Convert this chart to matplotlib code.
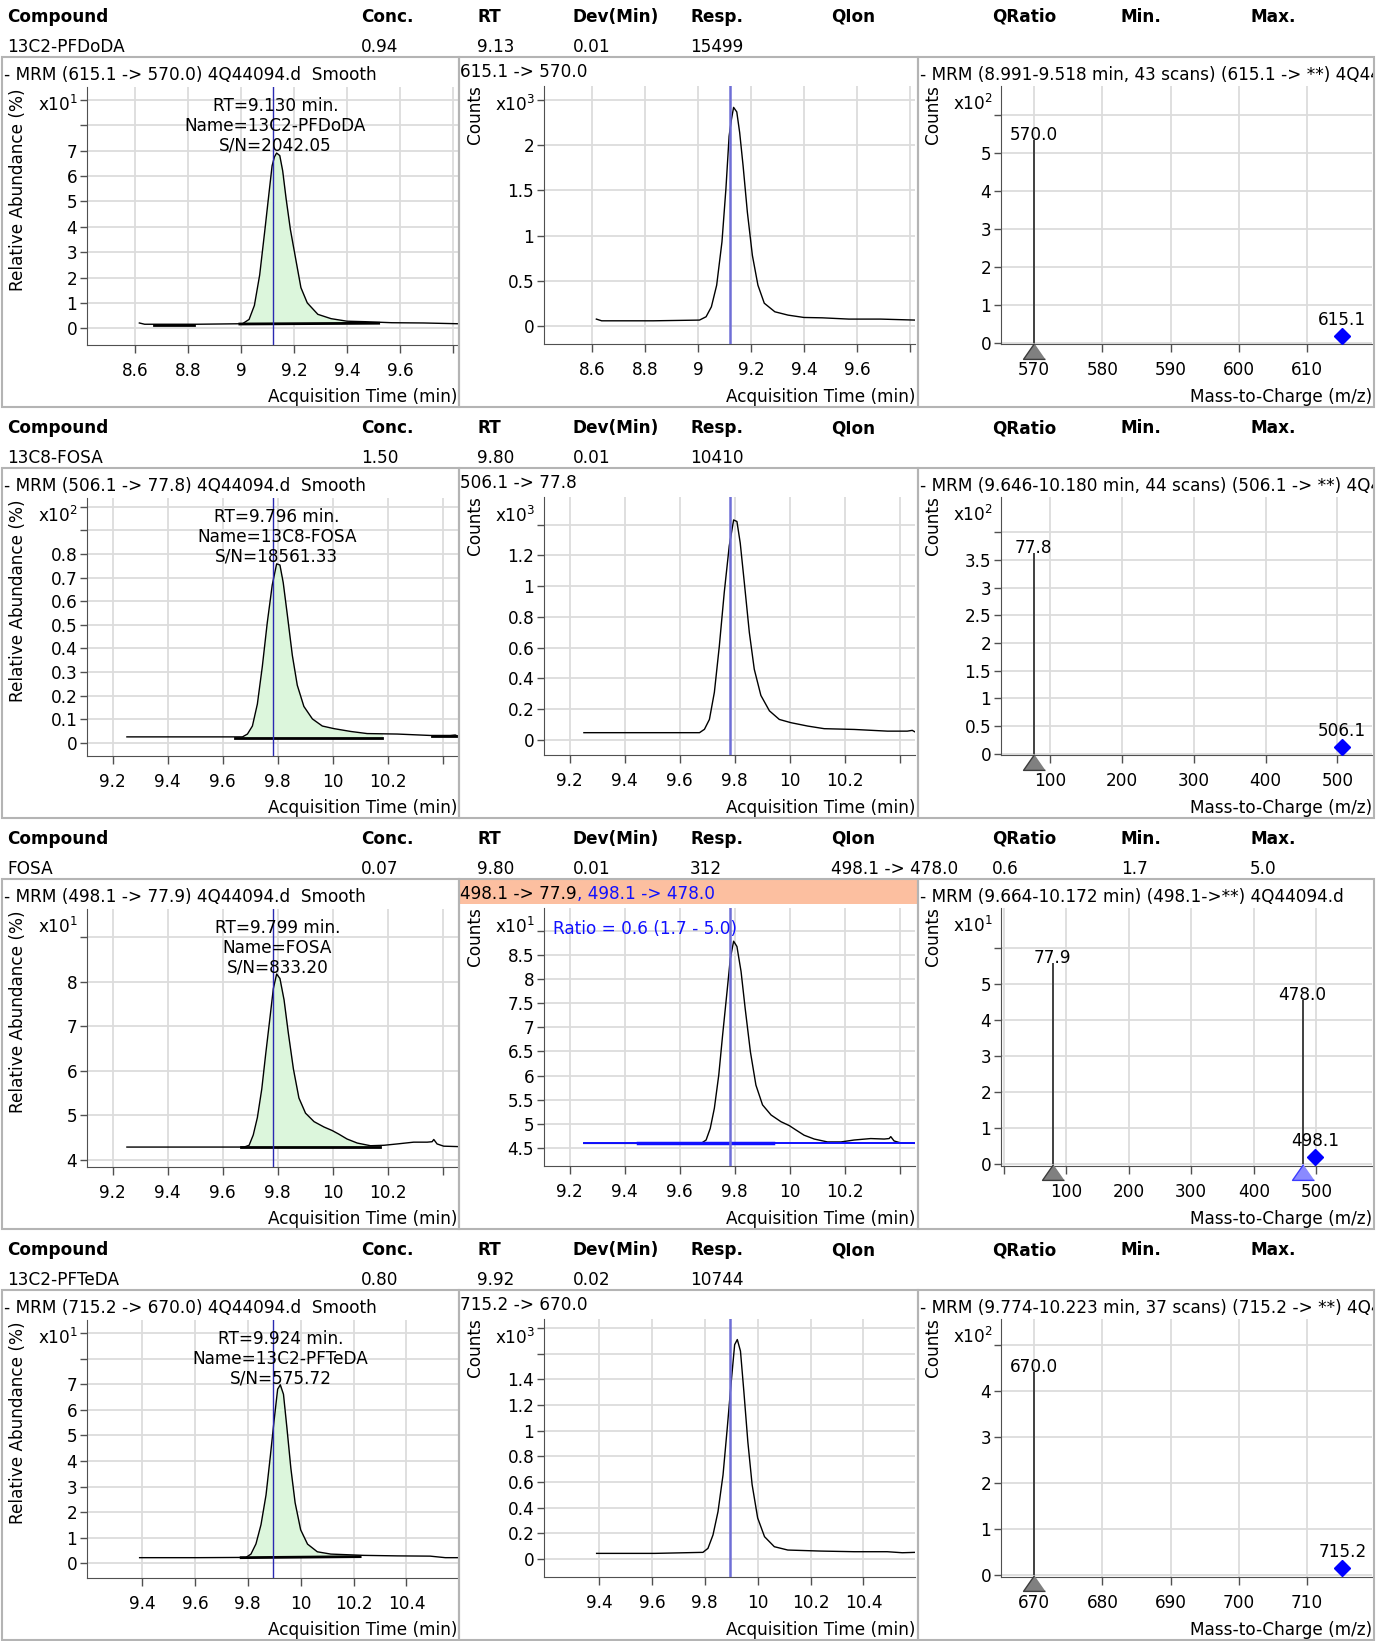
import numpy as np
import matplotlib
matplotlib.use('Agg')
import matplotlib.pyplot as plt
from matplotlib.patches import Rectangle
from matplotlib.transforms import Bbox, TransformedBbox, ScaledTranslation

plt.rcParams['font.family'] = ['DejaVu Sans']
plt.rcParams['font.size'] = 12.2

# ---- table values ----
compounds = ['13C2-PFDoDA', '13C8-FOSA', 'FOSA', '13C2-PFTeDA']
conc = ['0.94', '1.50', '0.07', '0.80']
rt_col = ['9.13', '9.80', '9.80', '9.92']
dev = ['0.01', '0.01', '0.01', '0.02']
resp = ['15499', '10410', '312', '10744']
qion = ['', '', '498.1 -> 478.0', '']
qratio = ['', '', '0.6', '']
qmin = ['', '', '1.7', '']
qmax = ['', '', '5.0', '']
headers = ['Compound', 'Conc.', 'RT', 'Dev(Min)', 'Resp.', 'QIon', 'QRatio', 'Min.', 'Max.']

transitions = ['615.1 -> 570.0', '506.1 -> 77.8', '498.1 -> 77.9', '715.2 -> 670.0']
rt_exact = [9.130, 9.796, 9.799, 9.924]
sn = ['2042.05', '18561.33', '833.20', '575.72']
rt_marker = [9.12, 9.784, 9.784, 9.896]
spec_titles = ['- MRM (8.991-9.518 min, 43 scans) (615.1 -> **) 4Q44094.d',
               '- MRM (9.646-10.180 min, 44 scans) (506.1 -> **) 4Q44094.d',
               '- MRM (9.664-10.172 min) (498.1->**) 4Q44094.d',
               '- MRM (9.774-10.223 min, 37 scans) (715.2 -> **) 4Q44094.d']

# ---- chromatograms: time (min), counts, relative abundance ----
t_pfdoda = [8.615, 8.635, 8.83, 9.005, 9.03, 9.05, 9.07, 9.09, 9.105, 9.117, 9.126, 9.134, 9.146,
            9.157, 9.17, 9.186, 9.205, 9.226, 9.25, 9.29, 9.34, 9.40, 9.47, 9.57, 9.69, 9.82]
cnt_pfdoda = [0.074, 0.055, 0.055, 0.063, 0.10, 0.21, 0.45, 0.93, 1.52, 2.10, 2.29, 2.42, 2.37,
              2.14, 1.77, 1.26, 0.78, 0.45, 0.25, 0.155, 0.118, 0.092, 0.088, 0.074, 0.074, 0.063]
rel_pfdoda = [0.21, 0.16, 0.16, 0.18, 0.35, 0.9, 2.1, 3.9, 5.3, 6.4, 6.75, 6.9, 6.8,
              6.2, 5.1, 3.9, 2.8, 1.6, 1.0, 0.55, 0.38, 0.28, 0.26, 0.22, 0.21, 0.18]

t_fosa13 = [9.252, 9.672, 9.69, 9.708, 9.726, 9.744, 9.762, 9.78, 9.796, 9.808, 9.82, 9.835, 9.853,
            9.871, 9.895, 9.926, 9.962, 10.004, 10.065, 10.125, 10.234, 10.355, 10.427, 10.445, 10.46]
cnt_fosa13 = [0.048, 0.048, 0.07, 0.134, 0.31, 0.61, 0.96, 1.26, 1.43, 1.42, 1.28, 1.02, 0.70,
              0.46, 0.29, 0.19, 0.134, 0.113, 0.091, 0.074, 0.069, 0.058, 0.058, 0.063, 0.048]
rel_fosa13 = [0.025, 0.025, 0.037, 0.071, 0.164, 0.323, 0.509, 0.668, 0.758, 0.753, 0.678, 0.541, 0.371,
              0.244, 0.154, 0.101, 0.071, 0.060, 0.048, 0.039, 0.037, 0.031, 0.031, 0.033, 0.025]

t_fosa = [9.252, 9.678, 9.696, 9.711, 9.726, 9.742, 9.756, 9.772, 9.784, 9.796, 9.808, 9.823, 9.838,
          9.857, 9.877, 9.901, 9.932, 9.968, 9.998, 10.022, 10.052, 10.089, 10.137, 10.186, 10.234,
          10.294, 10.343, 10.361, 10.367, 10.379, 10.403, 10.457]
cnt_fosa = [4.59, 4.59, 4.66, 4.90, 5.32, 6.01, 6.84, 7.74, 8.43, 8.79, 8.68, 8.16, 7.39,
            6.49, 5.80, 5.39, 5.18, 5.04, 4.96, 4.87, 4.76, 4.68, 4.62, 4.62, 4.66,
            4.69, 4.68, 4.69, 4.73, 4.64, 4.60, 4.59]
rel_fosa = [4.29, 4.29, 4.33, 4.56, 4.95, 5.59, 6.36, 7.20, 7.84, 8.17, 8.07, 7.59, 6.87,
            6.04, 5.39, 5.05, 4.86, 4.74, 4.66, 4.58, 4.47, 4.38, 4.32, 4.33, 4.36,
            4.40, 4.40, 4.41, 4.46, 4.36, 4.31, 4.30]

t_pfteda = [9.391, 9.611, 9.793, 9.812, 9.831, 9.85, 9.869, 9.885, 9.9, 9.913, 9.923, 9.935, 9.948,
            9.963, 9.979, 10.0, 10.026, 10.063, 10.114, 10.239, 10.365, 10.49, 10.547, 10.597]
cnt_pfteda = [0.044, 0.044, 0.052, 0.083, 0.187, 0.369, 0.655, 1.02, 1.38, 1.67, 1.71, 1.62, 1.30,
              0.91, 0.58, 0.32, 0.174, 0.096, 0.07, 0.062, 0.057, 0.057, 0.049, 0.052]
rel_pfteda = [0.22, 0.22, 0.23, 0.36, 0.76, 1.51, 2.67, 4.16, 5.63, 6.81, 6.98, 6.61, 5.30,
              3.71, 2.37, 1.31, 0.75, 0.45, 0.36, 0.31, 0.29, 0.28, 0.22, 0.22]

times = [t_pfdoda, t_fosa13, t_fosa, t_pfteda]
counts = [cnt_pfdoda, cnt_fosa13, cnt_fosa, cnt_pfteda]
rel = [rel_pfdoda, rel_fosa13, rel_fosa, rel_pfteda]

# integration baselines (start, value, end, value) and extra noise segments
peak_base = [(8.995, 0.17, 9.52, 0.20), (9.646, 0.022, 10.18, 0.022),
             (9.667, 4.29, 10.17, 4.29), (9.775, 0.22, 10.225, 0.26)]
extra_base = [[(8.67, 0.15, 8.82, 0.15)], [(10.36, 0.027, 10.45, 0.027)], [], []]

# ---- spectra ----
frag_mz = [[570.0], [77.8], [77.9, 478.0], [670.0]]
frag_h = [[5.35], [3.63], [5.57, 4.55], [4.42]]
prec_mz = [615.1, 506.1, 498.1, 715.2]
prec_h = [0.18, 0.12, 0.19, 0.15]

# ---- axis ranges / ticks ----
chrom_xlim = [(8.417, 9.82), (9.107, 10.455), (9.107, 10.455), (9.192, 10.595)]
chrom_xt = [[8.6, 8.8, 9.0, 9.2, 9.4, 9.6, 9.8], [9.2, 9.4, 9.6, 9.8, 10.0, 10.2, 10.4],
            [9.2, 9.4, 9.6, 9.8, 10.0, 10.2, 10.4], [9.4, 9.6, 9.8, 10.0, 10.2, 10.4]]
chrom_xtl = [['8.6', '8.8', '9', '9.2', '9.4', '9.6', ''], ['9.2', '9.4', '9.6', '9.8', '10', '10.2', ''],
             ['9.2', '9.4', '9.6', '9.8', '10', '10.2', ''], ['9.4', '9.6', '9.8', '10', '10.2', '10.4']]

p1_ylim = [(-0.657, 9.5), (-0.056, 1.037), (3.843, 9.628), (-0.575, 9.515)]
p1_yt = [list(range(10)), [0, 0.1, 0.2, 0.3, 0.4, 0.5, 0.6, 0.7, 0.8, 0.9, 1.0], [4, 5, 6, 7, 8, 9], list(range(10))]
p1_ytl = [['0', '1', '2', '3', '4', '5', '6', '7', '', ''],
          ['0', '0.1', '0.2', '0.3', '0.4', '0.5', '0.6', '0.7', '0.8', '', ''],
          ['4', '5', '6', '7', '8', ''],
          ['0', '1', '2', '3', '4', '5', '6', '7', '', '']]
p1_exp = ['1', '2', '1', '1']

p2_ylim = [(-0.202, 2.657), (-0.097, 1.579), (4.12, 9.48), (-0.14, 1.87)]
p2_yt = [[0, 0.5, 1, 1.5, 2, 2.5], [0, 0.2, 0.4, 0.6, 0.8, 1.0, 1.2, 1.4],
         [4.5, 5, 5.5, 6, 6.5, 7, 7.5, 8, 8.5, 9], [0, 0.2, 0.4, 0.6, 0.8, 1.0, 1.2, 1.4, 1.6, 1.8]]
p2_ytl = [['0', '0.5', '1', '1.5', '2', ''], ['0', '0.2', '0.4', '0.6', '0.8', '1', '1.2', ''],
          ['4.5', '5', '5.5', '6', '6.5', '7', '7.5', '8', '8.5', ''],
          ['0', '0.2', '0.4', '0.6', '0.8', '1', '1.2', '1.4', '', '']]
p2_exp = ['3', '3', '1', '3']

p3_xlim = [(565.13, 619.53), (32.1, 548.1), (-4.5, 589.1), (665.13, 719.53)]
p3_xt = [[570, 580, 590, 600, 610], [100, 200, 300, 400, 500], [0, 100, 200, 300, 400, 500], [670, 680, 690, 700, 710]]
p3_xtl = [['570', '580', '590', '600', '610'], ['100', '200', '300', '400', '500'],
          ['', '100', '200', '300', '400', '500'], ['670', '680', '690', '700', '710']]
p3_ylim = [(-0.034, 6.777), (-0.02, 4.636), (-0.047, 7.106), (-0.043, 5.565)]
p3_yt = [[0, 1, 2, 3, 4, 5, 6], [0, 0.5, 1, 1.5, 2, 2.5, 3, 3.5, 4], [0, 1, 2, 3, 4, 5, 6], [0, 1, 2, 3, 4, 5]]
p3_ytl = [['0', '1', '2', '3', '4', '5', ''], ['0', '0.5', '1', '1.5', '2', '2.5', '3', '3.5', ''],
          ['0', '1', '2', '3', '4', '5', ''], ['0', '1', '2', '3', '4', '']]
p3_exp = ['2', '2', '1', '2']

# ---- layout (pixels) ----
W, H = 1391, 1641
block_top = [0, 411, 822, 1233]
col_x = [7, 361, 477, 573, 690, 831, 992, 1121, 1250]
FS = 12.2

fig = plt.figure(figsize=(W / 100, H / 100), dpi=100)


def fbox(x0, y0, x1, y1):
    return [x0 / W, 1 - y1 / H, (x1 - x0) / W, (y1 - y0) / H]


def ftext(x, y, s, **kw):
    # small nudge so that 'center' sits on the visual middle of the glyphs
    if kw.get('va') == 'center' and 'rotation' not in kw:
        y += 2
    return fig.text(x / W, 1 - y / H, s, fontsize=kw.pop('fontsize', FS), **kw)


def style(ax, xlim, ylim, xt, xtl, yt, ytl):
    ax.set_xlim(xlim)
    ax.set_ylim(ylim)
    ax.set_xticks(xt)
    ax.set_xticklabels(xtl)
    ax.set_yticks(yt)
    ax.set_yticklabels(ytl)
    for s in ('top', 'right'):
        ax.spines[s].set_visible(False)
    for s in ('left', 'bottom'):
        ax.spines[s].set_color('#505050')
    ax.grid(True, color='#dcdcdc', lw=1.3)
    ax.set_axisbelow(True)
    ax.tick_params(axis='y', direction='out', length=5, width=1, color='#505050', pad=2, labelsize=FS)
    ax.tick_params(axis='x', direction='out', length=6, width=1, color='#505050', pad=6, labelsize=FS)
    ax.patch.set_alpha(0)


tri = [(0, 0.72), (-1, -0.72), (1, -0.72)]

for i in range(4):
    top = block_top[i]
    row = [compounds[i], conc[i], rt_col[i], dev[i], resp[i], qion[i], qratio[i], qmin[i], qmax[i]]
    for x, h, v in zip(col_x, headers, row):
        ftext(x, top + 15, h, weight='bold', va='center')
        ftext(x, top + 45, v, va='center')

    # panel frames
    for x0, x1 in [(2, 459), (459, 918), (918, 1374)]:
        fig.add_artist(Rectangle((x0 / W, 1 - (top + 407) / H), (x1 - x0) / W, 350 / H,
                                 transform=fig.transFigure, fill=False, ec='#b4b4b4', lw=1.5))

    t = np.array(times[i])

    # --- panel 1: relative abundance ---
    ax1 = fig.add_axes(fbox(87, top + 87, 458, top + 345))
    style(ax1, chrom_xlim[i], p1_ylim[i], chrom_xt[i], chrom_xtl[i], p1_yt[i], p1_ytl[i])
    r = np.array(rel[i])
    b0, bv0, b1, bv1 = peak_base[i]
    tt = np.concatenate([[b0], t[(t > b0) & (t < b1)], [b1]])
    ax1.fill_between(tt, np.interp(tt, [b0, b1], [bv0, bv1]), np.interp(tt, t, r),
                     color='#dcf6dc', lw=0, zorder=2)
    ax1.plot(t, r, color='black', lw=1, zorder=3)
    ax1.plot([b0, b1], [bv0, bv1], color='black', lw=2, zorder=3)
    for s0, sv0, s1, sv1 in extra_base[i]:
        ax1.plot([s0, s1], [sv0, sv1], color='black', lw=2, zorder=3)
    ax1.axvline(rt_marker[i], color='#2a2ab0', lw=1, zorder=4)
    ax1.text(rt_exact[i], 0.85,
             'RT=%.3f min.\nName=%s\nS/N=%s' % (rt_exact[i], compounds[i], sn[i]),
             transform=ax1.get_xaxis_transform(), ha='center', va='center',
             fontsize=FS, linespacing=1.12, zorder=5)
    ftext(4, top + 73, '- MRM (%s) 4Q44094.d  Smooth' % transitions[i], va='center')
    ftext(18, top + 190, 'Relative Abundance (%)', rotation=90, ha='center', va='center')
    ftext(38, top + 103, 'x10$^{%s}$' % p1_exp[i], va='center')
    ftext(457, top + 395, 'Acquisition Time (min)', ha='right', va='center')

    # --- panel 2: counts ---
    ax2 = fig.add_axes(fbox(544, top + 86, 915, top + 344))
    style(ax2, chrom_xlim[i], p2_ylim[i], chrom_xt[i], chrom_xtl[i], p2_yt[i], p2_ytl[i])
    ax2.plot(t, counts[i], color='black', lw=1, zorder=3)
    ax2.axvline(rt_marker[i], color='#6e6ed6', lw=1.8, zorder=4)
    if i == 2:
        fig.add_artist(Rectangle((460 / W, 1 - (top + 82) / H), 457 / W, 24 / H,
                                 transform=fig.transFigure, color='#fcbfa0', lw=0, zorder=0))
        ftext(460, top + 70, '498.1 -> 77.9', va='center')
        ftext(577, top + 70, ', 498.1 -> 478.0', va='center', color='#1010ff')
        ftext(553, top + 105, 'Ratio = %s (%s - %s)' % (qratio[i], qmin[i], qmax[i]),
              va='center', color='#1010ff')
        ax2.plot([t[0], t[-1]], [cnt_fosa[0], cnt_fosa[-1]], color='#1010ff', lw=1.4, zorder=3)
        ax2.plot([9.45, 9.94], [cnt_fosa[0], cnt_fosa[0]], color='#1010ff', lw=2.5, zorder=3)
    else:
        ftext(460, top + 70, transitions[i], va='center')
    ftext(475, top + 115, 'Counts', rotation=90, ha='center', va='center')
    ftext(495, top + 103, 'x10$^{%s}$' % p2_exp[i], va='center')
    ftext(915, top + 395, 'Acquisition Time (min)', ha='right', va='center')

    # --- panel 3: spectrum ---
    ax3 = fig.add_axes(fbox(1001, top + 86, 1372, top + 344))
    style(ax3, p3_xlim[i], p3_ylim[i], p3_xt[i], p3_xtl[i], p3_yt[i], p3_ytl[i])
    shift = ax3.transData + ScaledTranslation(0, -8 / 100, fig.dpi_scale_trans)
    for k, (mz, hh) in enumerate(zip(frag_mz[i], frag_h[i])):
        ax3.vlines(mz, 0, hh, color='#404040', lw=1.4, zorder=3)
        ax3.text(mz, hh, '%.1f' % mz, ha='center', va='baseline', fontsize=FS, zorder=4)
        if k == 0:
            fc, ec = '#808080', '#3c3c3c'
        else:
            fc, ec = '#8a8aff', '#3c3cff'
        ax3.plot([mz], [0], marker=tri, ms=15.8, mfc=fc, mec=ec, mew=1,
                 transform=shift, clip_on=False, zorder=6)
    ax3.plot([prec_mz[i]], [prec_h[i]], marker='D', ms=8, color='#0000ff', clip_on=False, zorder=6)
    ax3.annotate('%.1f' % prec_mz[i], (prec_mz[i], prec_h[i]), xytext=(0, 8),
                 textcoords='offset points', ha='center', va='baseline', fontsize=FS, zorder=6)
    # the reference cuts the long spectrum title at the panel frame
    tt3 = ftext(920, top + 73, spec_titles[i], va='center')
    tt3.set_clip_box(TransformedBbox(Bbox.from_extents(918 / W, 1 - (top + 407) / H,
                                                       1373 / W, 1 - (top + 57) / H), fig.transFigure))
    tt3.set_clip_on(True)
    ftext(933, top + 115, 'Counts', rotation=90, ha='center', va='center')
    ftext(953, top + 102, 'x10$^{%s}$' % p3_exp[i], va='center')
    ftext(1372, top + 395, 'Mass-to-Charge (m/z)', ha='right', va='center')

fig.savefig('out.png', dpi=100)
